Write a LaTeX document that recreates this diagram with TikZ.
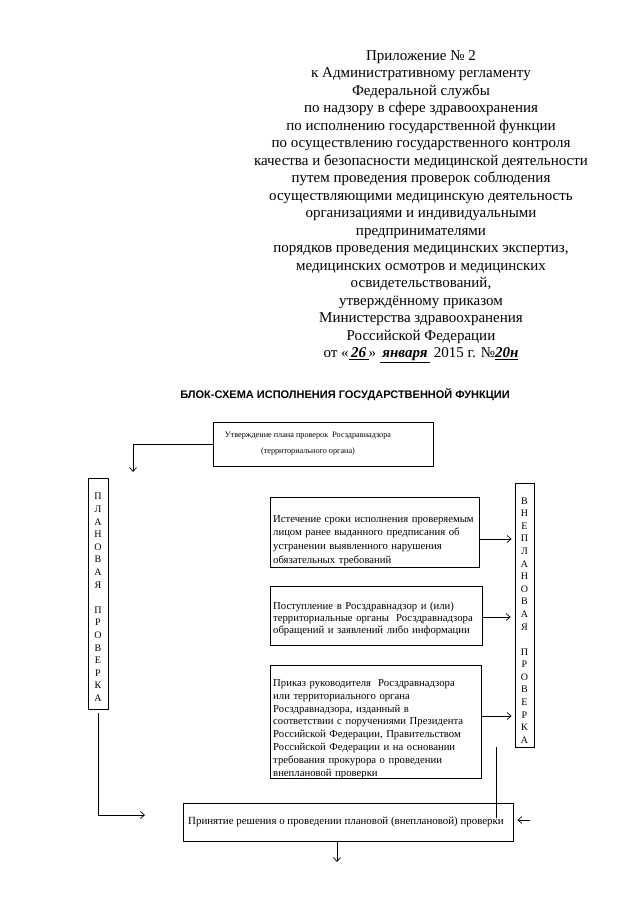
\documentclass[tikz,border=0pt]{standalone}
\usepackage{fontspec}
\setmainfont{Liberation Serif}
\newfontfamily\arialfont{Liberation Sans}
\usetikzlibrary{arrows.meta}
\begin{document}
\begin{tikzpicture}[x=1pt,y=1pt,
  box/.style={draw=black, line width=0.8pt, inner sep=0pt},
  boxtxt/.style={font=\fontsize{10.7}{13.7}\selectfont, align=left, text width=#1, inner sep=0pt},
  vlet/.style={font=\fontsize{10}{12.6}\selectfont, align=center, inner sep=0pt},
  arr/.style={-{Straight Barb[length=4pt,width=7pt]}, line width=0.7pt},
  ln/.style={line width=0.7pt}
]
\useasboundingbox[fill=white] (0,0) rectangle (640,-905);

% header
\node[anchor=north, align=center, inner sep=0pt, font=\fontsize{15}{17.5}\selectfont] (hdr) at (421,-50)
{Приложение № 2\\
к Административному регламенту\\
Федеральной службы\\
по надзору в сфере здравоохранения\\
по исполнению государственной функции\\
по осуществлению государственного контроля\\
качества и безопасности медицинской деятельности\\
путем проведения проверок соблюдения\\
осуществляющими медицинскую деятельность\\
организациями и индивидуальными\\
предпринимателями\\
порядков проведения медицинских экспертиз,\\
медицинских осмотров и медицинских\\
освидетельствований,\\
утверждённому приказом\\
Министерства здравоохранения\\
Российской Федерации\\
от «\underline{\,{\itshape\bfseries 26}\,}» \underline{\,{\itshape\bfseries января}\,} 2015 г. №\underline{{\itshape\bfseries 20н}}};

% title
\node[font=\arialfont\bfseries\fontsize{11}{13}\selectfont, inner sep=0pt] (title) at (345,-395)
{БЛОК-СХЕМА ИСПОЛНЕНИЯ ГОСУДАРСТВЕННОЙ ФУНКЦИИ};

% top box
\node[box, minimum width=220, minimum height=44] (plan) at (323,-444) {};
\node[font=\fontsize{8.2}{16}\selectfont, align=center, inner sep=0pt] (plantxt) at (308,-444)
{Утверждение плана проверок\ \ Росздравнадзора\\(территориального органа)};

% vertical boxes
\node[box, minimum width=20, minimum height=231] (planv) at (98,-593.5) {};
\node[vlet] (planvtxt) at (98,-597.5) {П\\Л\\А\\Н\\О\\В\\А\\Я\\[12.6pt]П\\Р\\О\\В\\Е\\Р\\К\\А};

\node[box, minimum width=19, minimum height=264] (unplv) at (524.5,-615) {};
\node[vlet] (unplvtxt) at (524.5,-620.5) {В\\Н\\Е\\П\\Л\\А\\Н\\О\\В\\А\\Я\\[12.4pt]П\\Р\\О\\В\\Е\\Р\\К\\А};

% right-hand boxes
\node[box, minimum width=209, minimum height=70] (box1) at (374.5,-532) {};
\node[boxtxt=203pt, anchor=north west] (box1txt) at (273,-515)
{Истечение сроки исполнения проверяемым\\
лицом ранее выданного предписания об\\
устранении выявленного нарушения\\
обязательных требований};

\node[box, minimum width=212, minimum height=59] (box2) at (376,-615.5) {};
\node[boxtxt=206pt, anchor=north west, font=\fontsize{10.7}{11.8}\selectfont] (box2txt) at (273,-602)
{Поступление в Росздравнадзор и (или)\\
территориальные органы\ \ Росздравнадзора\\
обращений и заявлений либо информации};

\node[box, minimum width=211, minimum height=113] (box3) at (375.5,-721.5) {};
\node[boxtxt=206pt, anchor=north west, font=\fontsize{10.7}{12.9}\selectfont] (box3txt) at (273,-679)
{Приказ руководителя\ \ Росздравнадзора\\
или территориального органа\\
Росздравнадзора, изданный в\\
соответствии с поручениями Президента\\
Российской Федерации, Правительством\\
Российской Федерации и на основании\\
требования прокурора о проведении\\
внеплановой проверки};

% decision box
\node[box, minimum width=330, minimum height=38, font=\fontsize{10.9}{13}\selectfont] (decide) at (348,-822)
{\hspace*{-4pt}Принятие решения о проведении плановой (внеплановой) проверки};

% free ends
\coordinate (c1) at (133,-472);
\coordinate (c2) at (145,-815);
\coordinate (c3) at (496,-818);
\coordinate (c4) at (530,-820);
\coordinate (c5) at (337,-862);

% connectors
\draw[arr] (plan.west) -| (c1);
\draw[arr, shorten <=4pt] (planv.south) |- (c2);
\draw[arr, shorten >=3pt] (box1.east |- 0,-539) -- (unplv.west |- 0,-539);
\draw[arr, shorten >=4pt] (box2.east |- 0,-617) -- (unplv.west |- 0,-617);
\draw[arr, shorten >=3pt] (box3.east |- 0,-716) -- (unplv.west |- 0,-716);
\draw[ln] (c3 |- unplv.south) -- (c3);
\draw[arr, shorten >=4pt] (c4) -- (decide.east |- c4);
\draw[arr] (decide.south -| c5) -- (c5);
\end{tikzpicture}
\end{document}
